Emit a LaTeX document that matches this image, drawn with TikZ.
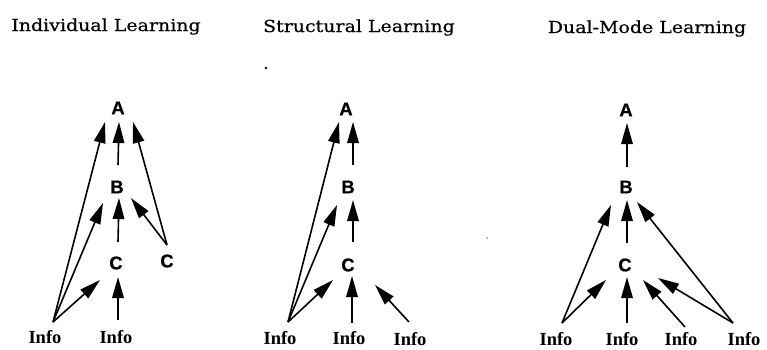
\documentclass[tikz,border=0pt]{standalone}
\usepackage{fontspec}
\usetikzlibrary{arrows.meta}
\newfontfamily\titlefont[FakeStretch=1.15,FakeBold=0.5]{DejaVu Serif}
\newfontfamily\labfont[FakeBold=0.6]{Liberation Sans}
\newfontfamily\infofont{Liberation Serif}
\begin{document}
\begin{tikzpicture}[x=1pt,y=-1pt,
  ttl/.style={font=\titlefont\fontsize{16.5}{18}\selectfont, inner sep=0, anchor=base},
  lab/.style={font=\labfont\bfseries\fontsize{18.5}{20}\selectfont, inner sep=0},
  info/.style={font=\infofont\bfseries\fontsize{18.5}{20}\selectfont, inner sep=0},
  arr/.style={-{Triangle[length=21pt,width=11.5pt]}, line width=1.6pt}]
\useasboundingbox (0,0) rectangle (767,349);

% titles
\node[ttl] (T1) at (106,31) {Individual Learning};
\node[ttl] (T2) at (359,32) {Structural Learning};
\node[ttl] (T3) at (647,33) {Dual-Mode Learning};

% stray dots
\fill (266,68) circle (1.3);
\fill[gray] (487,238) circle (0.8);

% ---------- panel 1 ----------
\node[lab] (A1) at (118,108) {A};
\node[lab] (B1) at (117,187) {B};
\node[lab] (C1a) at (116,263) {C};
\node[lab] (C1b) at (167,261) {C};
\node[info] (I1a) at (45,337) {Info};
\node[info] (I1b) at (116,337) {Info};

\draw[arr] ([shift={(8,-15)}]I1a.center) -- ([shift={(-13,14)}]A1.center);
\draw[arr] ([shift={(8,-15)}]I1a.center) -- ([shift={(-14,16)}]B1.center);
\draw[arr] ([shift={(8,-15)}]I1a.center) -- ([shift={(-16,17)}]C1a.center);
\draw[arr] ([shift={(1,-22)}]B1.center) -- ([shift={(1,14)}]A1.center);
\draw[arr] ([shift={(2,-21)}]C1a.center) -- ([shift={(2,11)}]B1.center);
\draw[arr] ([shift={(2,-17)}]I1b.center) -- ([shift={(2,14)}]C1a.center);
\draw[arr] ([shift={(0,-16)}]C1b.center) -- ([shift={(15,14)}]A1.center);
\draw[arr] ([shift={(0,-16)}]C1b.center) -- ([shift={(14,11)}]B1.center);

% ---------- panel 2 ----------
\node[lab] (A2) at (346,109) {A};
\node[lab] (B2) at (348,187) {B};
\node[lab] (C2) at (348,265) {C};
\node[info] (I2a) at (280,338) {Info};
\node[info] (I2b) at (349,338) {Info};
\node[info] (I2c) at (410,339) {Info};

\draw[arr] ([shift={(8,-16)}]I2a.center) -- ([shift={(-7,13)}]A2.center);
\draw[arr] ([shift={(8,-16)}]I2a.center) -- ([shift={(-11,18)}]B2.center);
\draw[arr] ([shift={(8,-16)}]I2a.center) -- ([shift={(-15,15)}]C2.center);
\draw[arr] ([shift={(5,-22)}]B2.center) -- ([shift={(7,13)}]A2.center);
\draw[arr] ([shift={(5,-23)}]C2.center) -- ([shift={(5,13)}]B2.center);
\draw[arr] ([shift={(3,-15)}]I2b.center) -- ([shift={(4,11)}]C2.center);
\draw[arr] ([shift={(-1,-17)}]I2c.center) -- ([shift={(27,20)}]C2.center);

% ---------- panel 3 ----------
\node[lab] (A3) at (626,110) {A};
\node[lab] (B3) at (626,187) {B};
\node[lab] (C3) at (625,265) {C};
\node[info] (I3a) at (556,339) {Info};
\node[info] (I3b) at (622,339) {Info};
\node[info] (I3c) at (681,339) {Info};
\node[info] (I3d) at (744,339) {Info};

\draw[arr] ([shift={(1,-20)}]B3.center) -- ([shift={(1,13)}]A3.center);
\draw[arr] ([shift={(2,-22)}]C3.center) -- ([shift={(1,13)}]B3.center);
\draw[arr] ([shift={(6,-16)}]I3a.center) -- ([shift={(-15,18)}]B3.center);
\draw[arr] ([shift={(6,-16)}]I3a.center) -- ([shift={(-19,15)}]C3.center);
\draw[arr] ([shift={(5,-16)}]I3b.center) -- ([shift={(2,12)}]C3.center);
\draw[arr] ([shift={(4,-12)}]I3c.center) -- ([shift={(18,15)}]C3.center);
\draw[arr] ([shift={(-11,-16)}]I3d.center) -- ([shift={(11,15)}]B3.center);
\draw[arr] ([shift={(-11,-16)}]I3d.center) -- ([shift={(33,13)}]C3.center);
\end{tikzpicture}
\end{document}
